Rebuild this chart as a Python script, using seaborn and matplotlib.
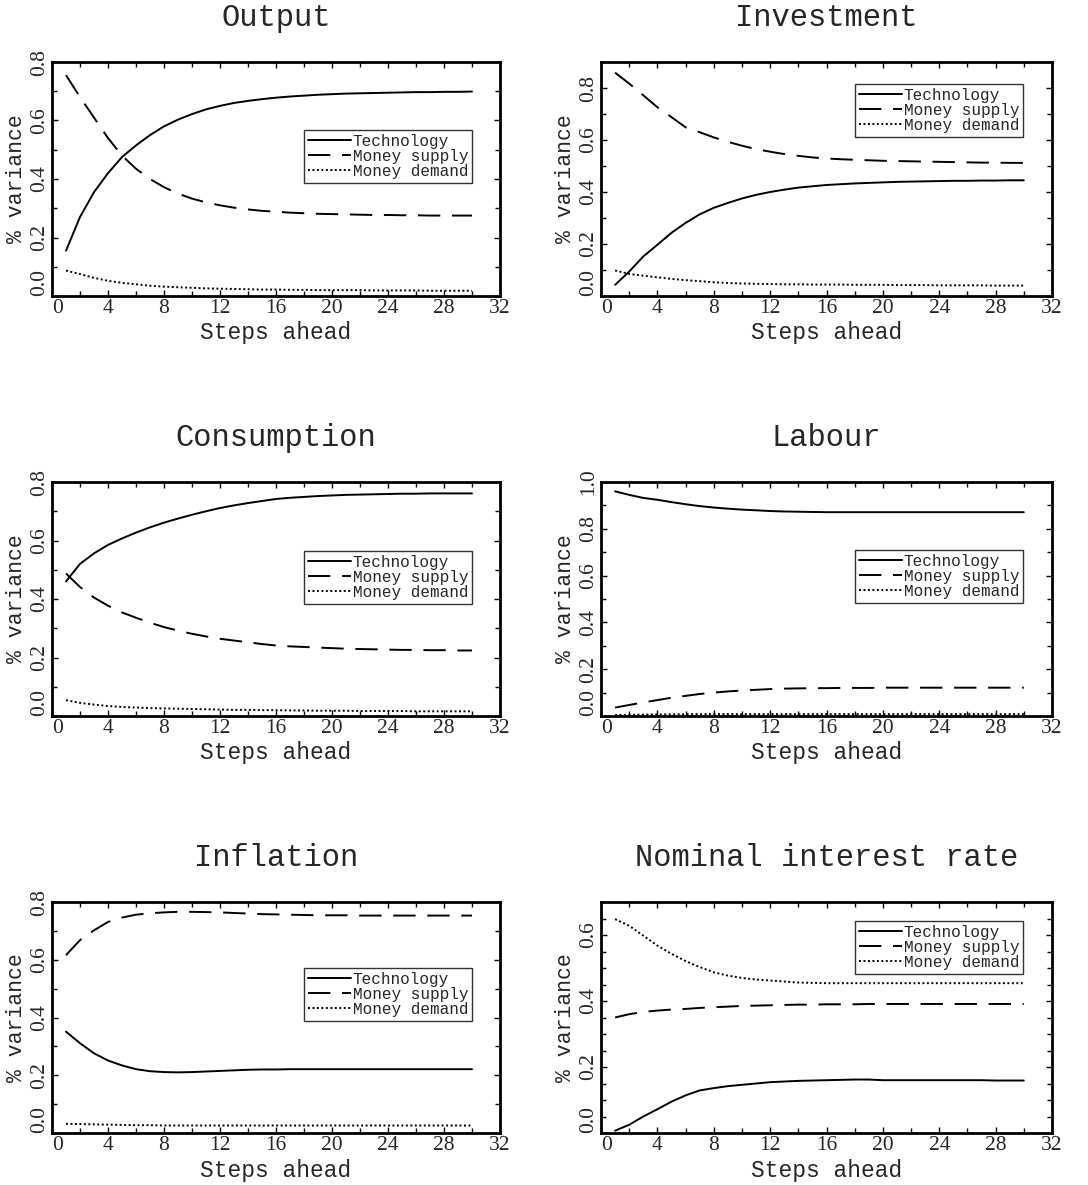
import numpy as np
import pandas as pd
import matplotlib
matplotlib.use("Agg")
import matplotlib.pyplot as plt
from matplotlib.ticker import MultipleLocator, FormatStrFormatter
import seaborn as sns

sns.set_style("ticks")
plt.rcParams['font.family'] = ['Liberation Mono', 'DejaVu Sans']

steps = list(range(1, 31))
shocks = ["Technology", "Money supply", "Money demand"]

output_tech = [0.155, 0.27, 0.355, 0.42, 0.475, 0.515, 0.55, 0.58, 0.603, 0.622, 0.638, 0.65, 0.66, 0.667, 0.673,
               0.678, 0.682, 0.685, 0.688, 0.69, 0.692, 0.693, 0.694, 0.695, 0.696, 0.697, 0.697, 0.698, 0.698, 0.699]
output_ms = [0.755, 0.68, 0.61, 0.54, 0.48, 0.435, 0.40, 0.372, 0.35, 0.333, 0.32, 0.31, 0.302, 0.296, 0.291,
             0.288, 0.285, 0.283, 0.281, 0.28, 0.279, 0.278, 0.277, 0.277, 0.276, 0.276, 0.275, 0.275, 0.275, 0.275]
output_md = [0.087, 0.075, 0.062, 0.052, 0.045, 0.04, 0.035, 0.032, 0.03, 0.028, 0.026, 0.025, 0.024, 0.023, 0.022,
             0.022, 0.021, 0.021, 0.02, 0.02, 0.02, 0.02, 0.019, 0.019, 0.019, 0.019, 0.018, 0.018, 0.018, 0.018]

invest_tech = [0.043, 0.094, 0.152, 0.197, 0.243, 0.281, 0.314, 0.339, 0.358, 0.375, 0.389, 0.40, 0.409, 0.417, 0.422,
               0.427, 0.43, 0.433, 0.435, 0.437, 0.439, 0.44, 0.441, 0.442, 0.443, 0.443, 0.444, 0.444, 0.445, 0.445]
invest_ms = [0.859, 0.817, 0.772, 0.726, 0.688, 0.649, 0.63, 0.61, 0.593, 0.578, 0.565, 0.555, 0.546, 0.539, 0.533,
             0.529, 0.526, 0.524, 0.522, 0.52, 0.519, 0.518, 0.517, 0.516, 0.515, 0.514, 0.513, 0.513, 0.512, 0.512]
invest_md = [0.098, 0.085, 0.078, 0.072, 0.066, 0.061, 0.057, 0.053, 0.05, 0.048, 0.047, 0.046, 0.045, 0.045, 0.044,
             0.044, 0.044, 0.043, 0.043, 0.043, 0.042, 0.042, 0.042, 0.041, 0.041, 0.041, 0.041, 0.04, 0.04, 0.04]

cons_tech = [0.46, 0.52, 0.556, 0.585, 0.607, 0.627, 0.645, 0.661, 0.675, 0.688, 0.70, 0.711, 0.72, 0.728, 0.735,
             0.742, 0.746, 0.749, 0.752, 0.754, 0.756, 0.757, 0.758, 0.759, 0.76, 0.76, 0.761, 0.761, 0.761, 0.761]
cons_ms = [0.487, 0.441, 0.405, 0.377, 0.354, 0.336, 0.319, 0.304, 0.292, 0.281, 0.272, 0.264, 0.258, 0.252, 0.246,
           0.241, 0.238, 0.236, 0.234, 0.232, 0.23, 0.229, 0.228, 0.227, 0.226, 0.226, 0.225, 0.225, 0.224, 0.224]
cons_md = [0.054, 0.045, 0.039, 0.034, 0.031, 0.029, 0.027, 0.026, 0.025, 0.024, 0.023, 0.022, 0.021, 0.021, 0.02,
           0.02, 0.019, 0.019, 0.018, 0.018, 0.018, 0.017, 0.017, 0.017, 0.017, 0.016, 0.016, 0.016, 0.016, 0.016]

labour_tech = [0.96, 0.945, 0.932, 0.924, 0.914, 0.905, 0.897, 0.891, 0.886, 0.882, 0.879, 0.876, 0.874, 0.873, 0.872,
               0.871, 0.871, 0.871, 0.871, 0.871, 0.871, 0.871, 0.871, 0.871, 0.871, 0.871, 0.871, 0.871, 0.871, 0.871]
labour_ms = [0.036, 0.047, 0.058, 0.068, 0.078, 0.086, 0.094, 0.1, 0.105, 0.109, 0.112, 0.115, 0.117, 0.118, 0.119,
             0.119, 0.12, 0.12, 0.12, 0.121, 0.121, 0.121, 0.121, 0.121, 0.121, 0.121, 0.121, 0.121, 0.121, 0.121]
labour_md = [0.004, 0.005, 0.006, 0.007, 0.007, 0.008, 0.008, 0.008, 0.008, 0.008, 0.008, 0.008, 0.008, 0.008, 0.008,
             0.008, 0.008, 0.008, 0.008, 0.008, 0.008, 0.008, 0.008, 0.008, 0.008, 0.008, 0.008, 0.008, 0.008, 0.008]

infl_tech = [0.351, 0.311, 0.276, 0.251, 0.234, 0.221, 0.214, 0.211, 0.21, 0.211, 0.213, 0.215, 0.217, 0.219, 0.22,
             0.22, 0.221, 0.221, 0.221, 0.221, 0.221, 0.221, 0.221, 0.221, 0.221, 0.221, 0.221, 0.221, 0.221, 0.221]
infl_ms = [0.616, 0.668, 0.702, 0.731, 0.746, 0.756, 0.761, 0.764, 0.766, 0.766, 0.765, 0.764, 0.762, 0.76, 0.758,
           0.757, 0.756, 0.755, 0.754, 0.754, 0.754, 0.753, 0.753, 0.753, 0.753, 0.753, 0.753, 0.753, 0.753, 0.753]
infl_md = [0.032, 0.031, 0.03, 0.029, 0.028, 0.027, 0.027, 0.026, 0.026, 0.026, 0.026, 0.026, 0.026, 0.026, 0.026,
           0.026, 0.026, 0.026, 0.026, 0.026, 0.026, 0.026, 0.026, 0.026, 0.026, 0.026, 0.026, 0.026, 0.026, 0.026]

rate_tech = [0.007, 0.025, 0.05, 0.072, 0.095, 0.114, 0.129, 0.136, 0.142, 0.146, 0.15, 0.154, 0.156, 0.158, 0.159,
             0.16, 0.161, 0.162, 0.162, 0.16, 0.16, 0.16, 0.16, 0.16, 0.16, 0.16, 0.16, 0.159, 0.159, 0.159]
rate_ms = [0.35, 0.36, 0.367, 0.371, 0.374, 0.376, 0.379, 0.381, 0.383, 0.385, 0.386, 0.387, 0.388, 0.389, 0.389,
           0.39, 0.39, 0.39, 0.391, 0.391, 0.391, 0.391, 0.391, 0.391, 0.391, 0.391, 0.391, 0.391, 0.391, 0.391]
rate_md = [0.648, 0.628, 0.598, 0.568, 0.543, 0.521, 0.503, 0.487, 0.477, 0.47, 0.465, 0.462, 0.459, 0.456, 0.455,
           0.454, 0.454, 0.454, 0.454, 0.454, 0.454, 0.454, 0.454, 0.454, 0.454, 0.454, 0.454, 0.454, 0.454, 0.454]

panels = [
    ("Output", [output_tech, output_ms, output_md], 0.8, 0.1, (0.5625, 0.483)),
    ("Investment", [invest_tech, invest_ms, invest_md], 0.9, 0.1, (0.563, 0.68)),
    ("Consumption", [cons_tech, cons_ms, cons_md], 0.8, 0.1, (0.5625, 0.48)),
    ("Labour", [labour_tech, labour_ms, labour_md], 1.0, 0.1, (0.563, 0.485)),
    ("Inflation", [infl_tech, infl_ms, infl_md], 0.8, 0.1, (0.5625, 0.485)),
    ("Nominal interest rate", [rate_tech, rate_ms, rate_md], 0.7, 0.05, (0.563, 0.69)),
]

W, H = 1088, 1185
fig = plt.figure(figsize=(W / 100, H / 100), dpi=100)

col_left = [52, 601]
col_width = [448, 451]
row_top = [62, 482, 902]
row_h = [234, 234, 231]

styles = ["-", (0, (11.5, 6)), (0, (1, 1.3))]
lw = 1.4

for i, (title, series, ymax, yminor, legpos) in enumerate(panels):
    r, c = divmod(i, 2)
    left = col_left[c] / W
    bottom = 1 - (row_top[r] + row_h[r]) / H
    ax = fig.add_axes([left, bottom, col_width[c] / W, row_h[r] / H])
    for name, vals, ls in zip(shocks, series, styles):
        df = pd.DataFrame({"step": steps, "share": vals})
        sns.lineplot(data=df, x="step", y="share", ax=ax, color="black",
                     linestyle=ls, linewidth=lw, label=name)
    ax.set_xlim(0, 32)
    ax.set_ylim(0, ymax)
    ax.xaxis.set_major_locator(MultipleLocator(4))
    ax.xaxis.set_minor_locator(MultipleLocator(2))
    ax.yaxis.set_major_locator(MultipleLocator(0.2))
    ax.yaxis.set_minor_locator(MultipleLocator(yminor))
    ax.yaxis.set_major_formatter(FormatStrFormatter("%.1f"))
    ax.tick_params(which="both", direction="in", top=True, right=True, width=1, color="black")
    ax.tick_params(which="major", length=4.5, pad=2.0)
    ax.tick_params(which="minor", length=3.5)
    for sp in ax.spines.values():
        sp.set_linewidth(2.0)
        sp.set_color("black")
    ax.set_xlabel("Steps ahead", fontsize=16.5)
    ax.set_ylabel("% variance", fontsize=15.5)
    ax.xaxis.set_label_coords(0.5, -37 / row_h[r])
    ax.xaxis.label.set_va("center")
    ax.yaxis.set_label_coords(-35.5 / col_width[c], 0.5)
    ax.yaxis.label.set_va("center")
    ax.text(0.5, 1 + 44 / row_h[r], title, transform=ax.transAxes,
            ha="center", va="center", fontsize=22)
    leg = ax.legend(loc="lower left", bbox_to_anchor=legpos, fontsize=11.5,
                    frameon=True, fancybox=False, edgecolor="black",
                    handlelength=2.7, handletextpad=0.1, labelspacing=0.0,
                    borderpad=0.25, borderaxespad=0)
    leg.get_frame().set_linewidth(1.0)
    ax.set_facecolor("white")

fig.canvas.draw()
for ax in fig.axes:
    for lab in ax.get_xticklabels():
        lab.set_fontfamily("Liberation Serif")
        lab.set_fontsize(15.5)
        if lab.get_text() == "0":
            lab.set_ha("left")
    for lab in ax.get_yticklabels():
        lab.set_fontfamily("Liberation Serif")
        lab.set_fontsize(15.5)
        lab.set_rotation(90)
        lab.set_va("bottom" if lab.get_text() == "0.0" else "center")

fig.savefig("out.png", dpi=100, facecolor="white")
